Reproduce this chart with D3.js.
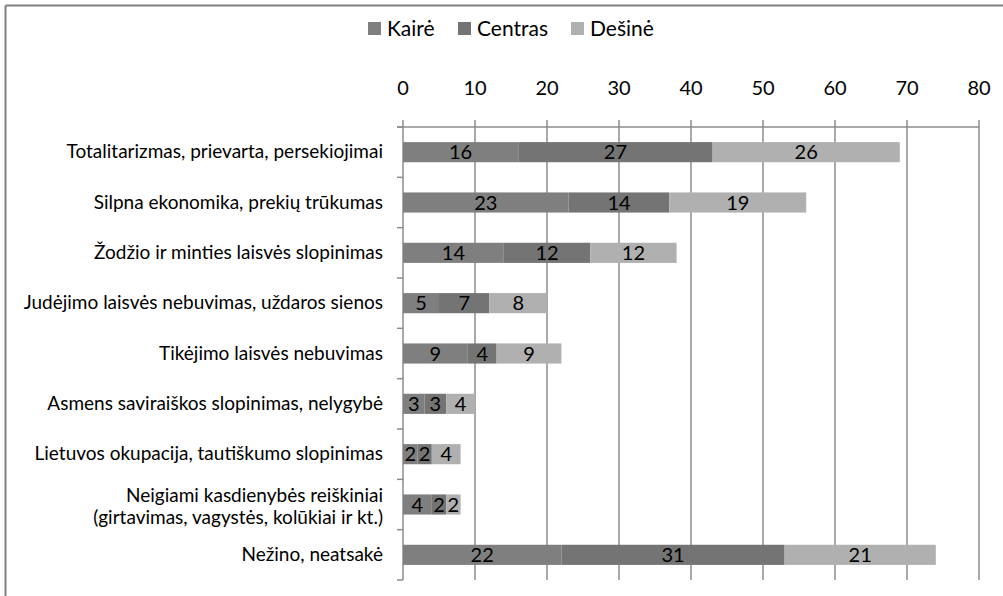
<!DOCTYPE html>
<html>
<head>
<meta charset="utf-8">
<script src="https://cdn.jsdelivr.net/npm/d3@7"></script>
<style>
  html, body { margin: 0; padding: 0; background: #fff; }
  svg { display: block; font-family: Lato, "Open Sans", sans-serif; }
</style>
</head>
<body>
<svg id="chart" width="1003" height="596"></svg>
<script>
const categories = [
  "Totalitarizmas, prievarta, persekiojimai",
  "Silpna ekonomika, prekių trūkumas",
  "Žodžio ir minties laisvės slopinimas",
  "Judėjimo laisvės nebuvimas, uždaros sienos",
  "Tikėjimo laisvės nebuvimas",
  "Asmens saviraiškos slopinimas, nelygybė",
  "Lietuvos okupacija, tautiškumo slopinimas",
  "Neigiami kasdienybės reiškiniai\n(girtavimas, vagystės, kolūkiai ir kt.)",
  "Nežino, neatsakė"
];
const seriesNames = ["Kairė", "Centras", "Dešinė"];
const kaire   = [16, 23, 14, 5, 9, 3, 2, 4, 22];
const centras = [27, 14, 12, 7, 4, 3, 2, 2, 31];
const desine  = [26, 19, 12, 8, 9, 4, 4, 2, 21];
const xTicks = [0, 10, 20, 30, 40, 50, 60, 70, 80];
const colors = ["#7f7f7f", "#747474", "#b0b0b0"];

(function () {
const svg = d3.select("#chart");
const W = 1003, H = 596;
const pLeft = 403, pRight = 979, pTop = 127, pBottom = 580;

svg.append("line").attr("x1", 5.5).attr("x2", W).attr("y1", 5.5).attr("y2", 5.5)
  .attr("stroke", "#808080").attr("stroke-width", 2);
svg.append("line").attr("x1", 5.5).attr("x2", 5.5).attr("y1", 5.5).attr("y2", H)
  .attr("stroke", "#808080").attr("stroke-width", 2);

const x = d3.scaleLinear().domain([0, 80]).range([pLeft, pRight]);
const y = d3.scaleBand().domain(d3.range(categories.length)).range([pTop, pBottom]).paddingInner(0.6).paddingOuter(0.3);
const yEdges = d3.scaleLinear().domain([0, categories.length]).range([pTop, pBottom]);

const data = categories.map((c, i) => ({ i, "Kairė": kaire[i], "Centras": centras[i], "Dešinė": desine[i] }));
const stack = d3.stack().keys(seriesNames)(data);

const g = svg.append("g");
g.selectAll("line.grid").data(xTicks).join("line")
  .attr("x1", d => x(d)).attr("x2", d => x(d))
  .attr("y1", pTop - 7).attr("y2", pBottom)
  .attr("stroke", "#8c8c8c").attr("stroke-width", 1.5);
g.append("line").attr("x1", pLeft - 6).attr("x2", pRight).attr("y1", pTop).attr("y2", pTop)
  .attr("stroke", "#8c8c8c").attr("stroke-width", 1.5);
g.selectAll("line.ytick").data(d3.range(categories.length + 1)).join("line")
  .attr("x1", pLeft - 6).attr("x2", pLeft)
  .attr("y1", d => yEdges(d)).attr("y2", d => yEdges(d))
  .attr("stroke", "#8c8c8c").attr("stroke-width", 1.5);

svg.selectAll("text.xt").data(xTicks).join("text")
  .attr("x", d => x(d)).attr("y", 95)
  .attr("text-anchor", "middle")
  .attr("font-size", 20).attr("fill", "#000")
  .text(d => d);

const layers = svg.selectAll("g.layer").data(stack).join("g")
  .attr("fill", (d, k) => colors[k]);
layers.selectAll("rect").data(d => d).join("rect")
  .attr("x", d => x(d[0]))
  .attr("width", d => x(d[1]) - x(d[0]))
  .attr("y", (d, i) => y(i))
  .attr("height", y.bandwidth());

stack.forEach((layer, k) => {
  svg.append("g").selectAll("text").data(layer).join("text")
    .attr("x", d => (x(d[0]) + x(d[1])) / 2)
    .attr("y", (d, i) => y(i) + y.bandwidth() / 2 + 7)
    .attr("text-anchor", "middle")
    .attr("font-size", 20).attr("fill", "#000")
    .text(d => d[1] - d[0]);
});

categories.forEach((c, i) => {
  const lines = c.split("\n");
  const cy = y(i) + y.bandwidth() / 2;
  const lh = 22;
  const t = svg.append("text")
    .attr("text-anchor", "end")
    .attr("font-size", 19).attr("fill", "#000");
  lines.forEach((ln, j) => {
    t.append("tspan").attr("x", 383)
      .attr("y", cy + 6 + (j - (lines.length - 1) / 2) * lh + (lines.length > 1 ? 2 : 0))
      .text(ln);
  });
});

const legX = [368, 458, 571];
const leg = svg.append("g");
seriesNames.forEach((s, k) => {
  leg.append("rect").attr("x", legX[k]).attr("y", 22).attr("width", 13).attr("height", 13).attr("fill", colors[k]);
  leg.append("text").attr("x", legX[k] + 19).attr("y", 36).attr("font-size", 21).attr("fill", "#000").text(s);
});
})();
</script>
</body>
</html>
